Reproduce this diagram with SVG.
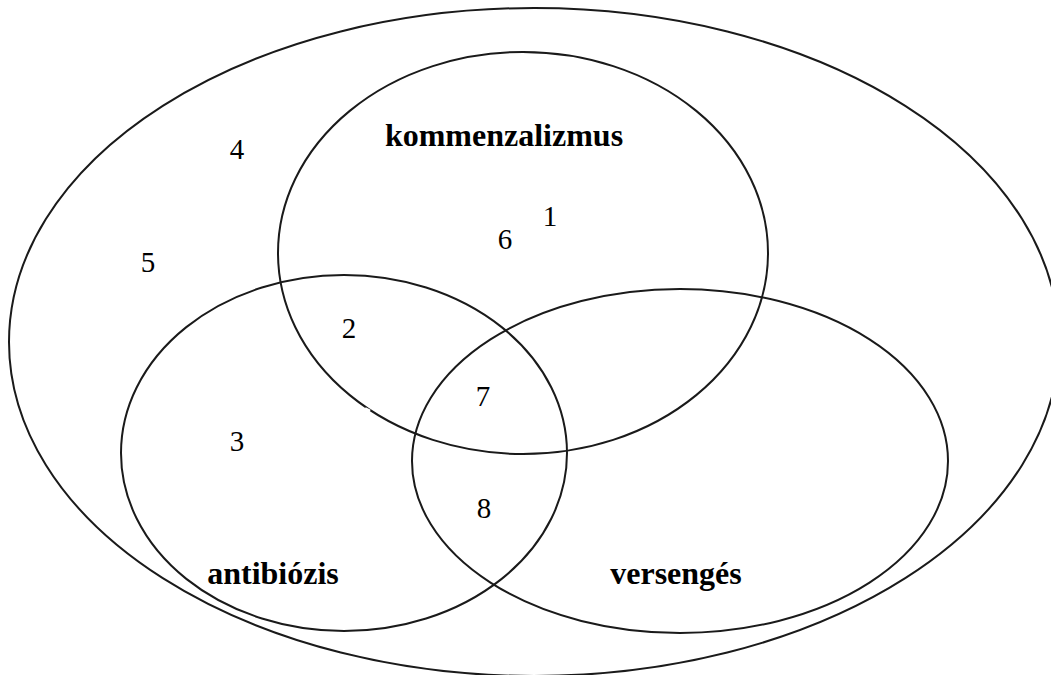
<svg xmlns="http://www.w3.org/2000/svg" width="1051" height="675" viewBox="0 0 1051 675">
<style>
.set{fill:none;stroke:#1a1a1a;stroke-width:2}
.lbl{font-family:"Liberation Serif","Times New Roman",serif;font-weight:bold;font-size:32px;fill:#000;text-anchor:middle}
.num{font-family:"Liberation Serif","Times New Roman",serif;font-size:29px;fill:#000;text-anchor:middle}
</style>
<rect width="1051" height="675" fill="#fff"/>
<g id="outer"><ellipse class="set" cx="534" cy="342" rx="525" ry="334"/></g>
<g id="kommenzalizmus"><ellipse class="set" cx="523" cy="253" rx="245" ry="201"/>
<line x1="365" y1="408.5" x2="370" y2="411" stroke="#fff" stroke-width="3"/>
<text class="lbl" x="504" y="146">kommenzalizmus</text></g>
<g id="antibiozis"><ellipse class="set" cx="344" cy="453" rx="223" ry="178"/>
<text class="lbl" x="273" y="584">antibiózis</text></g>
<g id="versenges"><ellipse class="set" cx="680" cy="461" rx="268" ry="172"/>
<text class="lbl" x="676" y="584">versengés</text></g>
<g id="numbers">
<text class="num" x="550" y="226">1</text>
<text class="num" x="505" y="249">6</text>
<text class="num" x="237" y="159">4</text>
<text class="num" x="148" y="272">5</text>
<text class="num" x="349" y="338">2</text>
<text class="num" x="483" y="406">7</text>
<text class="num" x="237" y="451">3</text>
<text class="num" x="484" y="518">8</text>
</g>
</svg>
